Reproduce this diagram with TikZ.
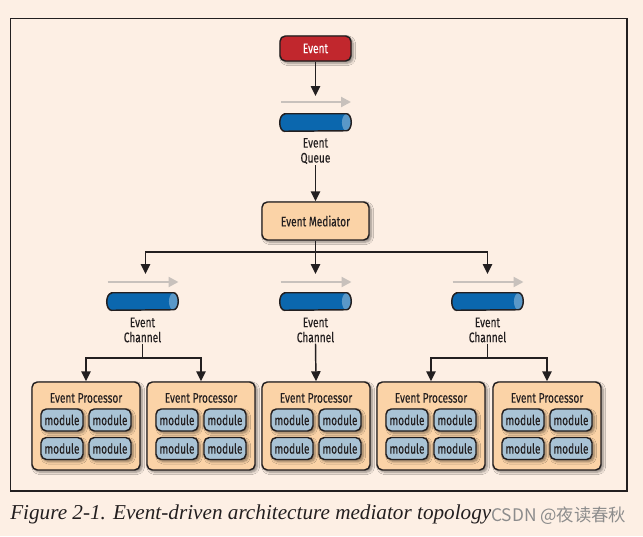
\documentclass[tikz,border=0pt]{standalone}
\usepackage{fontspec}
\setmainfont{Liberation Serif}
\newfontfamily\cond[FakeStretch=0.73,FakeBold=0.15]{Fira Sans}
\newfontfamily\cjk{Noto Sans CJK SC}
\usetikzlibrary{arrows.meta,shadows.blur}
\definecolor{bg}{HTML}{FDEFE4}
\definecolor{ink}{HTML}{231F20}
\definecolor{evred}{HTML}{C1272D}
\definecolor{peach}{HTML}{FBD3A7}
\definecolor{modblue}{HTML}{A9C3D5}
\definecolor{pipe}{HTML}{0B67AE}
\definecolor{pipeend}{HTML}{5A98C8}
\definecolor{flow}{HTML}{C8C1BC}
\def\pxu{0.75pt}
\def\lblfont{\cond\fontsize{10.4}{11.25}\selectfont}
\tikzset{
  lbl/.style={font=\lblfont, text=ink, inner sep=0pt, align=center},
  shbox/.style={draw=ink, line width=1.1pt, rounded corners=4pt,
    blur shadow={shadow xshift=1.6pt, shadow yshift=-1.6pt, shadow blur steps=6, shadow opacity=45}},
  eventbox/.style={shbox, fill=evred, minimum width=71*\pxu, minimum height=25*\pxu, inner sep=0pt,
    font=\lblfont, text=white},
  medbox/.style={shbox, fill=peach, minimum width=107*\pxu, minimum height=38*\pxu, inner sep=0pt,
    font=\lblfont, text=ink},
  procbox/.style={shbox, fill=peach, minimum width=108*\pxu, minimum height=88*\pxu, inner sep=0pt},
  modbox/.style={shbox, rounded corners=4pt, fill=modblue, minimum width=42*\pxu, minimum height=22*\pxu, inner sep=0pt,
    font=\lblfont, text=ink},
  pipenode/.style={minimum width=71*\pxu, minimum height=17*\pxu, inner sep=0pt},
  arr/.style={draw=ink, line width=1.1pt, -{Triangle[length=7.5pt,width=7pt]}},
  flowarr/.style={draw=flow, line width=1.6pt, -{Triangle[length=7.5pt,width=7.5pt]}},
}
% draw a horizontal pipe (cylinder) on node #1
\newcommand\drawpipe[1]{%
  \path[fill=pipe] ([xshift=3.5pt]#1.north west) -- ([xshift=-3.5pt]#1.north east)
     arc[start angle=90, end angle=-90, x radius=3.5pt, y radius=6.375pt]
     -- ([xshift=3.5pt]#1.south west)
     arc[start angle=270, end angle=90, x radius=3.5pt, y radius=6.375pt] -- cycle;
  \fill[pipeend] ([xshift=-3.5pt]#1.east) ellipse[x radius=3.5pt, y radius=6.375pt];
  \draw[ink, line width=1.1pt] ([xshift=3.5pt]#1.north west) -- ([xshift=-3.5pt]#1.north east)
     arc[start angle=90, end angle=-90, x radius=3.5pt, y radius=6.375pt]
     -- ([xshift=3.5pt]#1.south west)
     arc[start angle=270, end angle=90, x radius=3.5pt, y radius=6.375pt] -- cycle;
}
\begin{document}
\begin{tikzpicture}[x=0.75pt,y=-0.75pt]
\fill[bg] (0,0) rectangle (643,536);
\useasboundingbox (0,0) rectangle (643,536);
\draw[ink, line width=0.8pt] (10.3,18.5) rectangle (627,491);

% event and queue
\node[eventbox] (ev) at (315.5,48.5) {Event};
\coordinate (qin) at (315.5,96);
\coordinate (qfa) at (281,102);
\coordinate (qfb) at (351,102);
\node[pipenode] (queue) at (315.5,122.5) {};
\drawpipe{queue}
\node[lbl] (qlbl) at (315.5,151) {Event\\Queue};
\node[medbox] (med) at (315.5,221) {Event Mediator};

\draw[arr] (ev.south) -- (qin);
\draw[flowarr] (qfa) -- (qfb);
\draw[arr] (qlbl.south) ++(0,1) -- (med.north);

% channels
\foreach \i/\x/\ax in {1/142.5/145.5, 2/315.5/315.5, 3/487.5/487.5}{
  \coordinate (cin\i) at (\ax,274);
  \coordinate (cfa\i) at (\x-35,282);
  \coordinate (cfb\i) at (\x+36,282);
  \node[pipenode] (ch\i) at (\x,301.5) {};
  \drawpipe{ch\i}
  \node[lbl] (clbl\i) at (\x,330) {Event\\Channel};
  \draw[flowarr] (cfa\i) -- (cfb\i);
}
\coordinate (jm) at (315.5,252);
\draw[arr] (med.south) -- (jm) -| (cin1);
\draw[arr] (jm) -| (cin3);
\draw[arr] (jm) -- (cin2);

% processors
\foreach \i/\x in {1/86, 2/201, 3/316, 4/431, 5/547}{
  \node[procbox] (p\i) at (\x,426) {};
  \node[lbl] (pt\i) at (\x,398) {Event Processor};
  \node[modbox] (m\i a) at (\x-24,420) {module};
  \node[modbox] (m\i b) at (\x+24,420) {module};
  \node[modbox] (m\i c) at (\x-24,448.5) {module};
  \node[modbox] (m\i d) at (\x+24,448.5) {module};
}
\coordinate (j1) at (142.5,358);
\coordinate (j3) at (487.5,358);
\draw[ink, line width=1.1pt] (clbl1.south) ++(0,1) -- (j1);
\draw[arr] (j1) -| (p1.north);
\draw[arr] (j1) -| (p2.north);
\draw[arr] (clbl2.south) ++(0,1) -- (p3.north);
\draw[ink, line width=1.1pt] (clbl3.south) ++(0,1) -- (j3);
\draw[arr] (j3) -| (p4.north);
\draw[arr] (j3) -| (p5.north);

% caption
\node[anchor=base west, inner sep=0pt, text=ink] (cap) at (10,519.5)
  {\fontsize{15.9}{18}\selectfont\itshape Figure 2-1. Event-driven architecture mediator topology};
\node[anchor=base west, inner sep=0pt, text=black!45] (wm) at (491,521)
  {\cjk\fontsize{13}{15}\selectfont CSDN @夜读春秋};
\end{tikzpicture}
\end{document}
